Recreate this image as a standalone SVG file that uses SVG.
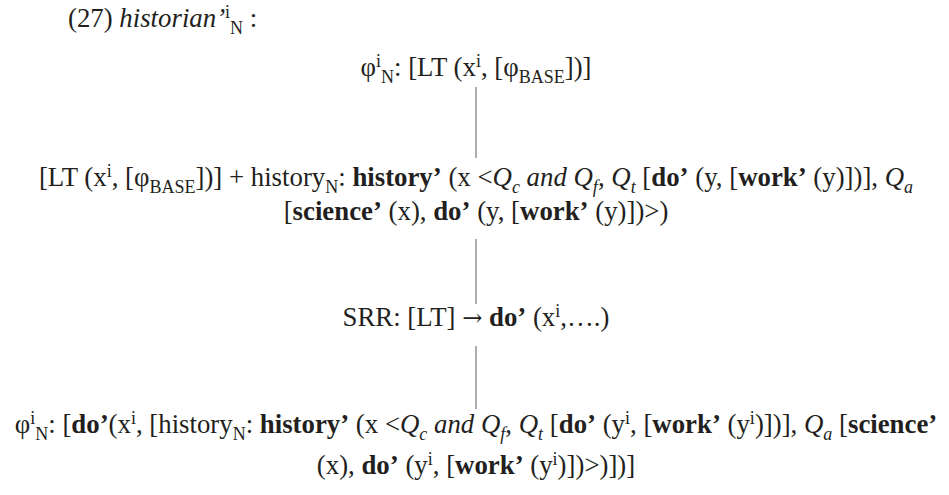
<svg xmlns="http://www.w3.org/2000/svg" width="949" height="495" viewBox="0 0 949 495">
<style>
text{font-family:"Liberation Serif","Times New Roman",serif;font-size:26.8px;fill:#231f20}
.c{text-anchor:middle}
.b{font-weight:bold}
.i{font-style:italic}
.s{font-size:18px}
.ar{font-family:"DejaVu Serif","DejaVu Sans",serif;font-size:24px}
.conn line{stroke:#777;stroke-width:1.2}
</style>
<rect width="949" height="495" fill="#fff"/>
<g id="title"><text x="68" y="27">(27) <tspan class="i">historian’</tspan><tspan class="s" dy="-9">i</tspan><tspan class="s" dy="16">N</tspan><tspan dy="-7"> :</tspan></text></g>
<g id="node1"><text class="c" x="476" y="76">φ<tspan class="s" dy="-9">i</tspan><tspan class="s" dy="16">N</tspan><tspan dy="-7">: [LT (x</tspan><tspan class="s" dy="-9">i</tspan><tspan dy="9">, [φ</tspan><tspan class="s" dy="7">BASE</tspan><tspan dy="-7">])]</tspan></text></g>
<g id="node2">
<text class="c" x="476" y="186">[LT (x<tspan class="s" dy="-9">i</tspan><tspan dy="9">, [φ</tspan><tspan class="s" dy="7">BASE</tspan><tspan dy="-7">])] + history</tspan><tspan class="s" dy="7">N</tspan><tspan dy="-7">: </tspan><tspan class="b">history’</tspan> (x &lt;<tspan class="i">Q</tspan><tspan class="s i" dy="7">c</tspan><tspan class="i" dy="-7"> and Q</tspan><tspan class="s i" dy="7">f</tspan><tspan dy="-7">, </tspan><tspan class="i">Q</tspan><tspan class="s i" dy="7">t</tspan><tspan dy="-7"> [</tspan><tspan class="b">do’</tspan> (y, [<tspan class="b">work’</tspan> (y)])], <tspan class="i">Q</tspan><tspan class="s i" dy="7">a</tspan></text>
<text class="c" x="476" y="220">[<tspan class="b">science’</tspan> (x), <tspan class="b">do’</tspan> (y, [<tspan class="b">work’</tspan> (y)])&gt;)</text>
</g>
<g id="node3"><text class="c" x="476" y="326">SRR: [LT] <tspan class="ar">→</tspan> <tspan class="b">do’</tspan> (x<tspan class="s" dy="-9">i</tspan><tspan dy="9">,….)</tspan></text></g>
<g id="node4">
<text class="c" x="476" y="433">φ<tspan class="s" dy="-9">i</tspan><tspan class="s" dy="16">N</tspan><tspan dy="-7">: [</tspan><tspan class="b">do’</tspan>(x<tspan class="s" dy="-9">i</tspan><tspan dy="9">, [history</tspan><tspan class="s" dy="7">N</tspan><tspan dy="-7">: </tspan><tspan class="b">history’</tspan> (x &lt;<tspan class="i">Q</tspan><tspan class="s i" dy="7">c</tspan><tspan class="i" dy="-7"> and Q</tspan><tspan class="s i" dy="7">f</tspan><tspan dy="-7">, </tspan><tspan class="i">Q</tspan><tspan class="s i" dy="7">t</tspan><tspan dy="-7"> [</tspan><tspan class="b">do’</tspan> (y<tspan class="s" dy="-9">i</tspan><tspan dy="9">, [</tspan><tspan class="b">work’</tspan> (y<tspan class="s" dy="-9">i</tspan><tspan dy="9">)])], </tspan><tspan class="i">Q</tspan><tspan class="s i" dy="7">a</tspan><tspan dy="-7"> [</tspan><tspan class="b">science’</tspan></text>
<text class="c" x="476" y="474">(x), <tspan class="b">do’</tspan> (y<tspan class="s" dy="-9">i</tspan><tspan dy="9">, [</tspan><tspan class="b">work’</tspan> (y<tspan class="s" dy="-9">i</tspan><tspan dy="9">)])&gt;)])]</tspan></text>
</g>
<g class="conn" id="connectors">
<line x1="476" y1="87" x2="476" y2="158"/>
<line x1="476" y1="239" x2="476" y2="304"/>
<line x1="476" y1="346" x2="476" y2="409"/>
</g>
</svg>
